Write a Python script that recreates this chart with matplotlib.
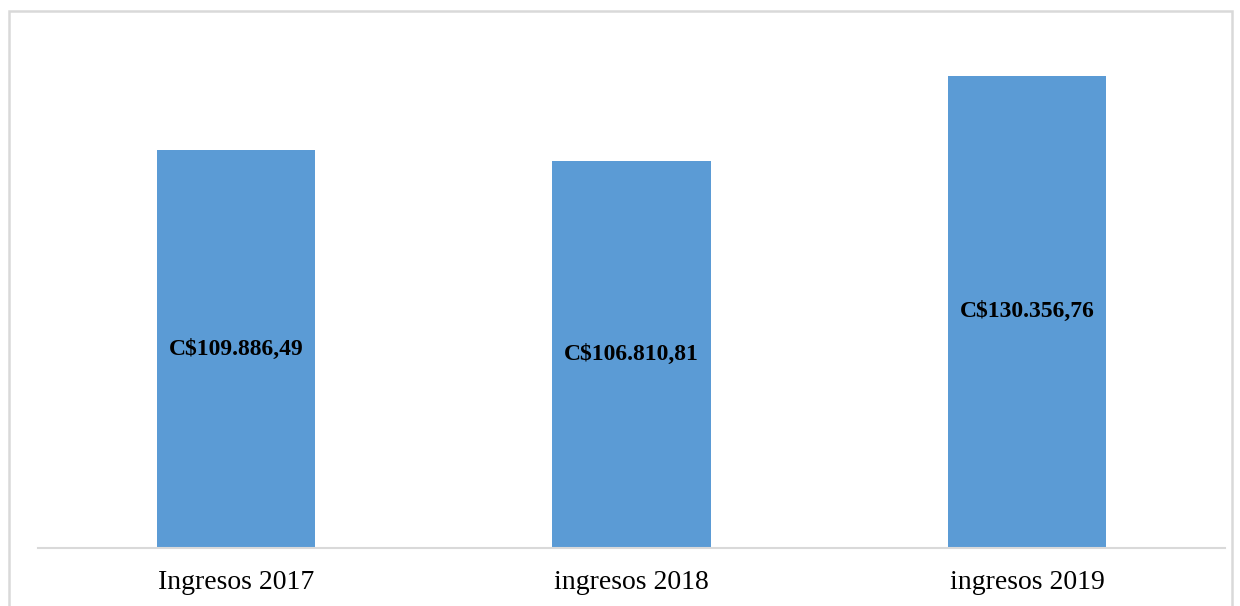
import matplotlib
matplotlib.use("Agg")
import matplotlib.pyplot as plt
from matplotlib.patches import Rectangle

categories = ["Ingresos 2017", "ingresos 2018", "ingresos 2019"]
values = [109886.49, 106810.81, 130356.76]
labels = ["C$109.886,49", "C$106.810,81", "C$130.356,76"]

W, H = 1240, 606
fig = plt.figure(figsize=(W / 100, H / 100), dpi=100)
plt.rcParams['font.family'] = ['Liberation Serif', 'DejaVu Serif']

# outer border
fig.patches.append(Rectangle((8.5 / W, -0.01), (1232 - 8.5) / W, (H - 11.5) / H + 0.01,
                             transform=fig.transFigure, fill=False,
                             edgecolor='#d9d9d9', linewidth=1.8))

ax_left, ax_right = 38 / W, 1225 / W
ax_bottom = (H - 548) / H
ymax = 140000
scale = 398 / values[0]
top_px = 548 - ymax * scale
ax = fig.add_axes([ax_left, ax_bottom, ax_right - ax_left, (548 - top_px) / H])

x = list(range(len(categories)))
bars = ax.bar(x, values, width=0.4, color='#5b9bd5', zorder=2)
ax.set_xlim(-0.5, len(categories) - 0.5)
ax.set_ylim(0, ymax)
ax.set_yticks([])
ax.set_xticks(x)
ax.set_xticklabels(categories, fontsize=20)
ax.tick_params(axis='x', length=0, pad=16)
for s in ['top', 'left', 'right']:
    ax.spines[s].set_visible(False)
ax.spines['bottom'].set_color('#d9d9d9')
ax.spines['bottom'].set_linewidth(1.5)

for xi, v, lab in zip(x, values, labels):
    ax.text(xi, v / 2, lab, ha='center', va='center', fontsize=17,
            fontweight='bold', color='black')

fig.savefig("out.png", dpi=100)
